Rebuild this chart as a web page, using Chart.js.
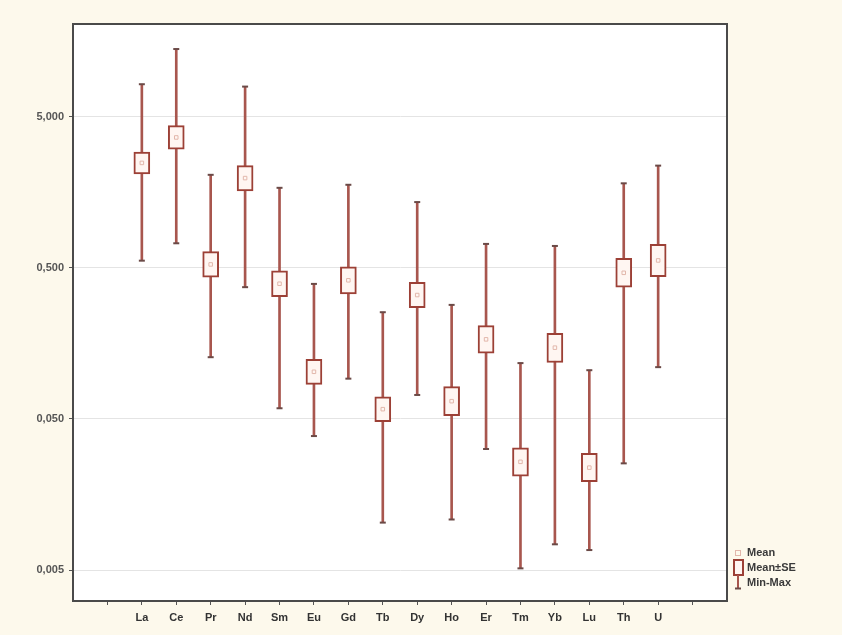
<!DOCTYPE html>
<html>
<head>
<meta charset="utf-8">
<script src="https://cdn.jsdelivr.net/npm/chart.js@4.4.1/dist/chart.umd.min.js"></script>
<style>
  html, body { margin: 0; padding: 0; background: #fdf9ec; }
  #wrap { position: relative; width: 842px; height: 635px; }
  #legend { position: absolute; left: 732px; top: 545px; font: bold 11px "Liberation Sans", Arial, sans-serif; color: #3a3a3a; }
  .item { position: relative; height: 15px; line-height: 15px; padding-left: 15px; white-space: nowrap; }
  .ico { position: absolute; }
</style>
</head>
<body>
<div id="wrap">
  <canvas id="c" width="842" height="635"></canvas>
  <div id="legend">
    <div class="item"><span class="ico" style="left:3px;top:5px;width:4px;height:4px;border:1px solid #e2b7ab;"></span>Mean</div>
    <div class="item"><span class="ico" style="left:1px;top:-1px;width:7px;height:13px;border:2px solid #9c4036;background:#fff6f2;"></span>Mean±SE</div>
    <div class="item"><svg class="ico" style="left:0px;top:-1px" width="12" height="16"><line x1="6" y1="1" x2="6" y2="14" stroke="#a8564e" stroke-width="2"/><line x1="3" y1="14.5" x2="9" y2="14.5" stroke="#6b4a47" stroke-width="2"/></svg>Min-Max</div>
  </div>
</div>
<script>
const categories = ['La','Ce','Pr','Nd','Sm','Eu','Gd','Tb','Dy','Ho','Er','Tm','Yb','Lu','Th','U'];
const minValues  = [0.557, 0.726, 0.128, 0.372, 0.0588, 0.0385, 0.0923, 0.0103, 0.072, 0.0108, 0.0316, 0.00513, 0.0074, 0.00678, 0.0254, 0.110];
const maxValues  = [8.19, 14.0, 2.06, 7.90, 1.69, 0.391, 1.77, 0.254, 1.36, 0.284, 0.719, 0.117, 0.697, 0.105, 1.81, 2.37];
const seLow      = [2.09, 3.04, 0.433, 1.61, 0.322, 0.0847, 0.336, 0.0479, 0.272, 0.0525, 0.136, 0.0209, 0.118, 0.0192, 0.372, 0.437];
const seHigh     = [2.91, 4.36, 0.639, 2.37, 0.478, 0.124, 0.508, 0.0701, 0.401, 0.0817, 0.207, 0.0322, 0.184, 0.0296, 0.578, 0.715];
const meanValues = [2.47, 3.64, 0.526, 1.96, 0.392, 0.1025, 0.413, 0.058, 0.330, 0.0655, 0.168, 0.026, 0.148, 0.0238, 0.463, 0.559];
const yTickValues = [0.005, 0.05, 0.5, 5];
const yTickLabels = ['0,005', '0,050', '0,500', '5,000'];

const whiskerData = categories.map((c, i) => ({x: i, y: [minValues[i], maxValues[i]]}));
const boxData = categories.map((c, i) => ({x: i, y: [seLow[i], seHigh[i]]}));
const capData = [];
categories.forEach((c, i) => { capData.push({x: i, y: minValues[i]}); capData.push({x: i, y: maxValues[i]}); });
const meanData = categories.map((c, i) => ({x: i, y: meanValues[i]}));

const framePlugin = {
  id: 'frame',
  beforeDraw(chart) {
    const {ctx, chartArea: a} = chart;
    ctx.save();
    ctx.fillStyle = '#ffffff';
    ctx.fillRect(a.left, a.top, a.right - a.left, a.bottom - a.top);
    ctx.restore();
  },
  afterDraw(chart) {
    const {ctx, chartArea: a} = chart;
    ctx.save();
    ctx.strokeStyle = '#4a4a4a';
    ctx.lineWidth = 2;
    ctx.strokeRect(a.left, a.top, a.right - a.left, a.bottom - a.top);
    ctx.restore();
  }
};

const tickFont = {family: '"Liberation Sans", Arial, sans-serif', size: 11, weight: 'bold'};

new Chart(document.getElementById('c'), {
  type: 'bar',
  data: {
    datasets: [
      {type: 'scatter', data: meanData, order: 0, pointStyle: 'rect', radius: 2.5, borderWidth: 1,
       borderColor: '#e2b7ab', backgroundColor: 'rgba(0,0,0,0)'},
      {type: 'bar', data: boxData, order: 1, grouped: false, barThickness: 16, borderWidth: 2,
       borderSkipped: false, borderColor: '#9c4036', backgroundColor: '#fff6f2'},
      {type: 'scatter', data: capData, order: 2, pointStyle: 'line', radius: 3, borderWidth: 2,
       borderColor: '#6b4a47'},
      {type: 'bar', data: whiskerData, order: 3, grouped: false, barThickness: 2, borderWidth: 0,
       backgroundColor: '#a8564e'}
    ]
  },
  options: {
    responsive: false,
    animation: false,
    layout: {padding: {left: 0, top: 24, right: 115, bottom: 0}},
    plugins: {legend: {display: false}, tooltip: {enabled: false}},
    scales: {
      x: {
        type: 'linear', min: -2, max: 17, offset: false,
        afterBuildTicks: (s) => { s.ticks = []; for (let v = -1; v <= 16; v++) s.ticks.push({value: v}); },
        afterFit: (s) => { s.height = 34; },
        ticks: {autoSkip: false, maxRotation: 0, padding: 6, color: '#333', font: tickFont,
                callback: (v) => (categories[v] !== undefined ? categories[v] : '')},
        grid: {drawOnChartArea: false, offset: false, tickLength: 4, tickColor: '#555'},
        border: {color: '#4a4a4a', width: 2}
      },
      y: {
        type: 'logarithmic', min: 0.00312, max: 20.5,
        afterBuildTicks: (s) => { s.ticks = yTickValues.map(v => ({value: v})); },
        afterFit: (s) => { s.width = 73; },
        ticks: {autoSkip: false, padding: 5, color: '#555', font: tickFont,
                callback: (v) => { const k = yTickValues.indexOf(v); return k >= 0 ? yTickLabels[k] : ''; }},
        grid: {color: '#e4e4e4', tickLength: 4, tickColor: '#555'},
        border: {color: '#4a4a4a', width: 2}
      }
    }
  },
  plugins: [framePlugin]
});
</script>
</body>
</html>
